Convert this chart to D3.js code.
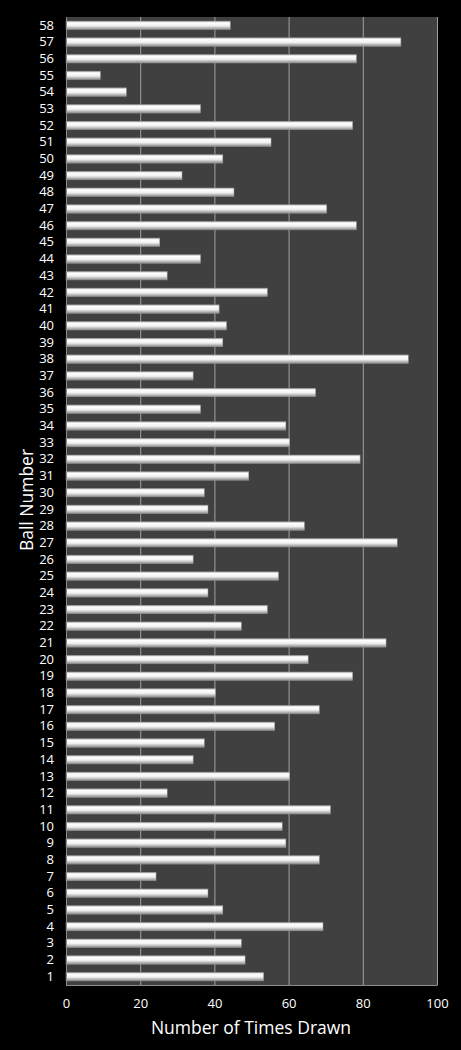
<!DOCTYPE html>
<html lang="en">
<head>
<meta charset="utf-8">
<script src="https://cdn.jsdelivr.net/npm/d3@7"></script>
<style>
    html, body { margin: 0; padding: 0; background: #000; }
    .axis text { font-family: "Open Sans", sans-serif; font-size: 13px; fill: #fff; }
    .axis path, .axis line { stroke: none; }
    .title { font-family: "Open Sans", sans-serif; font-size: 17.5px; fill: #fff; }
</style>
</head>
<body>
<script>
// ball numbers 1..58 and times drawn
const balls = [1, 2, 3, 4, 5, 6, 7, 8, 9, 10, 11, 12, 13, 14, 15, 16, 17, 18, 19, 20,
               21, 22, 23, 24, 25, 26, 27, 28, 29, 30, 31, 32, 33, 34, 35, 36, 37, 38, 39, 40,
               41, 42, 43, 44, 45, 46, 47, 48, 49, 50, 51, 52, 53, 54, 55, 56, 57, 58];
const timesDrawn = [53, 48, 47, 69, 42, 38, 24, 68, 59, 58, 71, 27, 60, 34, 37, 56, 68, 40, 77, 65,
                    86, 47, 54, 38, 57, 34, 89, 64, 38, 37, 49, 79, 60, 59, 36, 67, 34, 92, 42, 43,
                    41, 54, 27, 36, 25, 78, 70, 45, 31, 42, 55, 77, 36, 16, 9, 78, 90, 44];
const xTicks = [0, 20, 40, 60, 80, 100];

const data = balls.map((b, i) => ({ ball: b, count: timesDrawn[i] }));

let w = 461, h = 1050;
let plotLeft = 66, plotRight = 437, plotTop = 17, plotBottom = 985;

let svg = d3.select("body").append("svg")
    .attr("width", w)
    .attr("height", h);

let defs = svg.append("defs");
let grad = defs.append("linearGradient")
    .attr("id", "barGrad")
    .attr("x1", 0).attr("y1", 0).attr("x2", 0).attr("y2", 1);
grad.append("stop").attr("offset", "0%").attr("stop-color", "#b8b8b8");
grad.append("stop").attr("offset", "20%").attr("stop-color", "#ffffff");
grad.append("stop").attr("offset", "55%").attr("stop-color", "#f0f0f0");
grad.append("stop").attr("offset", "100%").attr("stop-color", "#8a8a8a");

let xScale = d3.scaleLinear().domain([0, 100]).range([plotLeft, plotRight]);
let yScale = d3.scaleBand()
    .domain(balls.slice().reverse())
    .range([plotTop, plotBottom])
    .paddingInner(0.49)
    .paddingOuter(0.245);

// plot area
svg.append("rect")
    .attr("x", plotLeft).attr("y", plotTop)
    .attr("width", plotRight - plotLeft).attr("height", plotBottom - plotTop)
    .attr("fill", "#404040");

// gridlines
svg.append("g")
    .selectAll("line")
    .data(xTicks.slice(1))
    .enter()
    .append("line")
    .attr("x1", d => xScale(d) + 0.5)
    .attr("x2", d => xScale(d) + 0.5)
    .attr("y1", plotTop)
    .attr("y2", plotBottom)
    .attr("stroke", "#a0a0a0")
    .attr("stroke-width", 1);

// bars
svg.append("g")
    .selectAll("rect")
    .data(data)
    .enter()
    .append("rect")
    .attr("x", xScale(0))
    .attr("y", d => yScale(d.ball))
    .attr("width", d => xScale(d.count) - xScale(0) + 1)
    .attr("height", yScale.bandwidth())
    .attr("fill", "url(#barGrad)")
    .attr("stroke", "#9a9a9a")
    .attr("stroke-width", 0.5);

// axis lines
svg.append("line")
    .attr("x1", plotLeft + 0.5).attr("x2", plotLeft + 0.5)
    .attr("y1", plotTop).attr("y2", plotBottom)
    .attr("stroke", "#8c8c8c");
svg.append("line")
    .attr("x1", plotLeft).attr("x2", plotRight + 0.5)
    .attr("y1", plotBottom + 0.5).attr("y2", plotBottom + 0.5)
    .attr("stroke", "#8c8c8c");

let xAxis = d3.axisBottom(xScale).tickValues(xTicks).tickSize(0).tickPadding(14);
svg.append("g")
    .attr("class", "axis")
    .attr("transform", "translate(0," + plotBottom + ")")
    .call(xAxis);

let yAxis = d3.axisLeft(yScale).tickSize(0).tickPadding(12);
svg.append("g")
    .attr("class", "axis")
    .attr("transform", "translate(" + plotLeft + ",0)")
    .call(yAxis);

svg.append("text")
    .attr("class", "title")
    .attr("x", 251)
    .attr("y", 1034)
    .attr("text-anchor", "middle")
    .text("Number of Times Drawn");

svg.append("text")
    .attr("class", "title")
    .attr("transform", "translate(33," + 500 + ") rotate(-90)")
    .attr("text-anchor", "middle")
    .text("Ball Number");
</script>
</body>
</html>
